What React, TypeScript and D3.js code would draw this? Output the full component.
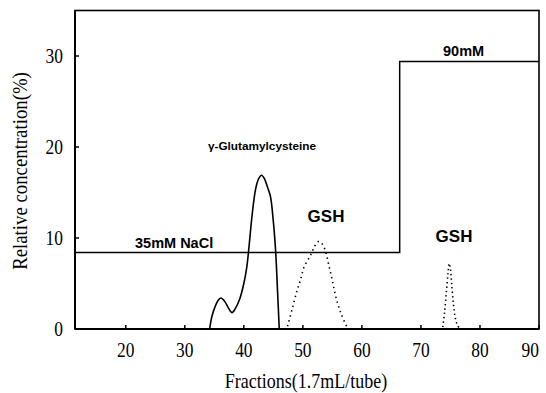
import React from "react";
import * as d3 from "d3";

const xTicks = [20, 30, 40, 50, 60, 70, 80, 90];
const yTicks = [0, 10, 20, 30];

// gamma-Glutamylcysteine peak (solid)
const gecFrac = [34.2, 34.6, 35.1, 35.6, 36.1, 36.8, 37.4, 38.0, 38.6, 39.3, 40.0, 40.5, 40.9, 41.4, 42.0, 42.5, 43.0, 43.5, 44.0, 44.5, 45.0, 45.4, 45.7, 46.0];
const gecVal = [0, 1.4, 2.4, 3.1, 3.4, 3.0, 2.3, 1.8, 2.3, 3.3, 5.0, 6.8, 9.2, 12.5, 15.4, 16.5, 16.9, 16.5, 15.6, 14.6, 11.8, 8.4, 4.3, 0];

// GSH peak 1 (dotted)
const gsh1Frac = [47.4, 48.2, 49.0, 49.6, 50.2, 51.3, 52.0, 52.6, 53.2, 53.8, 54.4, 55.0, 55.6, 56.4, 57.4];
const gsh1Val = [0.3, 2.2, 4.2, 5.4, 6.8, 8.1, 9.1, 9.6, 9.4, 8.6, 7.0, 5.3, 3.5, 1.8, 0.3];

// GSH peak 2 (dotted)
const gsh2Frac = [73.7, 74.0, 74.3, 74.6, 74.8, 75.0, 75.2, 75.5, 75.8, 76.2, 76.5];
const gsh2Val = [0.2, 1.8, 4.0, 6.2, 7.2, 6.6, 5.0, 2.8, 1.3, 0.4, 0.1];

// NaCl gradient step
const gradFrac = [11.4, 66.4, 66.4, 90];
const gradVal = [8.4, 8.4, 29.4, 29.4];

const X_MIN = 11.4;
const X_MAX = 90;
const Y_MAX = 35;

export default function App() {
  const x = d3.scaleLinear().domain([X_MIN, X_MAX]).range([75, 539]);
  const y = d3.scaleLinear().domain([0, Y_MAX]).range([329, 10.5]);

  const line = d3
    .line<[number, number]>()
    .x((d) => x(d[0]))
    .y((d) => y(d[1]));
  const smooth = d3
    .line<[number, number]>()
    .x((d) => x(d[0]))
    .y((d) => y(d[1]))
    .curve(d3.curveCatmullRom.alpha(0.5));

  const zip = (a: number[], b: number[]) => a.map((v, i) => [v, b[i]] as [number, number]);

  const serif = "'Liberation Serif', 'Times New Roman', serif";
  const sans = "'Liberation Sans', Arial, sans-serif";

  return (
    <svg
      width={546}
      height={393}
      style={{ position: "absolute", left: 0, top: 0, background: "#fff" }}
    >
      <rect x={0} y={0} width={546} height={393} fill="#fff" />
      {/* frame */}
      <rect
        x={x(X_MIN)}
        y={y(Y_MAX)}
        width={x(X_MAX) - x(X_MIN)}
        height={y(0) - y(Y_MAX)}
        fill="none"
        stroke="#000"
        strokeWidth={1.6}
      />
      <line x1={x(X_MIN)} x2={x(X_MAX)} y1={y(0)} y2={y(0)} stroke="#000" strokeWidth={2} />
      <line x1={x(X_MIN)} x2={x(X_MIN)} y1={y(0)} y2={y(Y_MAX)} stroke="#000" strokeWidth={2} />

      {/* x ticks */}
      {xTicks.map((t, i) => {
        const last = i === xTicks.length - 1;
        const tx = last ? Math.min(x(t), 545) : x(t);
        return (
          <g key={"xt" + t}>
            <line x1={x(t)} x2={x(t)} y1={y(0)} y2={y(0) - 4} stroke="#000" strokeWidth={1.5} />
            <text
              transform={`translate(${tx},357) scale(0.87,1)`}
              textAnchor={last ? "end" : "middle"}
              fontFamily={serif}
              fontSize={20}
              fill="#000"
            >
              {t}
            </text>
          </g>
        );
      })}

      {/* y ticks */}
      {yTicks.map((t) => (
        <g key={"yt" + t}>
          <line x1={x(X_MIN)} x2={x(X_MIN) + 4} y1={y(t)} y2={y(t)} stroke="#000" strokeWidth={1.5} />
          <text
            transform={`translate(63,${y(t) + 7}) scale(0.87,1)`}
            textAnchor="end"
            fontFamily={serif}
            fontSize={20}
            fill="#000"
          >
            {t}
          </text>
        </g>
      ))}

      {/* axis titles */}
      <text
        transform={`translate(306,388) scale(0.9,1)`}
        textAnchor="middle"
        fontFamily={serif}
        fontSize={20}
        fill="#000"
      >
        Fractions(1.7mL/tube)
      </text>
      <text
        transform={`translate(27,171) rotate(-90) scale(0.94,1)`}
        textAnchor="middle"
        fontFamily={serif}
        fontSize={20}
        fill="#000"
      >
        Relative concentration(%)
      </text>

      {/* gradient */}
      <path d={line(zip(gradFrac, gradVal)) || ""} fill="none" stroke="#000" strokeWidth={1.5} />

      {/* peaks */}
      <path d={smooth(zip(gecFrac, gecVal)) || ""} fill="none" stroke="#000" strokeWidth={1.6} />
      <path
        d={smooth(zip(gsh1Frac, gsh1Val)) || ""}
        fill="none"
        stroke="#000"
        strokeWidth={1.6}
        strokeDasharray="1.4,3.6"
      />
      <path
        d={smooth(zip(gsh2Frac, gsh2Val)) || ""}
        fill="none"
        stroke="#000"
        strokeWidth={1.6}
        strokeDasharray="1.4,3"
      />

      {/* annotations */}
      <text x={135} y={248} fontFamily={sans} fontWeight="bold" fontSize={14.5} fill="#000">
        35mM NaCl
      </text>
      <text x={443} y={56} fontFamily={sans} fontWeight="bold" fontSize={14.5} fill="#000">
        90mM
      </text>
      <text x={262} y={150} textAnchor="middle" fontFamily={sans} fontWeight="bold" fontSize={11.8} fill="#000">
        γ-Glutamylcysteine
      </text>
      <text x={326} y={222} textAnchor="middle" fontFamily={sans} fontWeight="bold" fontSize={17} fill="#000">
        GSH
      </text>
      <text x={454} y={242} textAnchor="middle" fontFamily={sans} fontWeight="bold" fontSize={17} fill="#000">
        GSH
      </text>
    </svg>
  );
}
